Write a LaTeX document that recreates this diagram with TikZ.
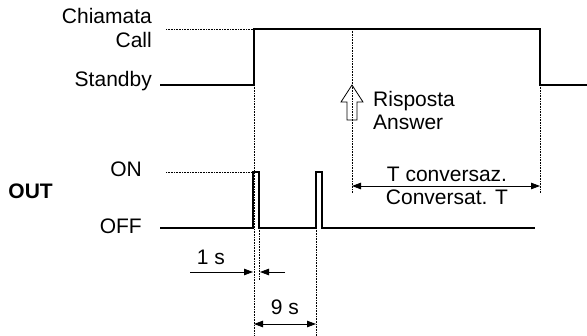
\documentclass[tikz,border=0pt]{standalone}
\usepackage{fontspec}
\setmainfont{Liberation Sans}
\usetikzlibrary{arrows.meta}

\begin{document}
\begin{tikzpicture}[x=1pt,y=-1pt,
    >={Triangle[length=9pt,width=6.5pt]},
    signal/.style={line width=1.4pt},
    guide/.style={densely dotted, line width=0.6pt},
    dimline/.style={line width=0.8pt},
    lbl/.style={inner sep=0pt, font=\fontsize{21}{24}\selectfont}]
  \useasboundingbox (0,0) rectangle (587,336);

  % labels of the levels
  \node[lbl, anchor=base east] (chiamata) at (152,24) {Chiamata};
  \node[lbl, anchor=base east] (call) at (152,48) {Call};
  \node[lbl, anchor=base east] (standby) at (152,87) {Standby};
  \node[lbl, anchor=base east] (on) at (142,177) {ON};
  \node[lbl, anchor=base east] (off) at (142,234) {OFF};
  \node[lbl, anchor=base east, font=\fontsize{21}{24}\selectfont\bfseries] (out) at (53,199) {OUT};

  % times
  \coordinate (ring) at (254,85);
  \coordinate (pulse1) at (259,228);
  \coordinate (pulse2) at (316,228);
  \coordinate (answer) at (352,29);
  \coordinate (hangup) at (540,85);

  % call signal
  \draw[guide] (166,29) -- (254,29);
  \draw[signal] (160,85) -| (254,29) -| (hangup) -- (587,85);

  % output signal
  \draw[guide] (166,172) -- (253,172);
  \draw[signal] (160,228) -| (253,172) -| (pulse1) -| (316,172) -| (322,228) -- (535,228);

  % guide lines
  \draw[guide] (ring) -- (254,336);
  \draw[guide] (pulse1) -- (259,280);
  \draw[guide] (pulse2) -- (316,336);
  \draw[guide] (answer) -- (352,193);
  \draw[guide] (hangup) -- (540,193);

  % answer arrow
  \draw[line width=0.8pt]
    (352,85) -- (363,102) -- (357,102) -- (357,120) -- (347,120) -- (347,102) -- (341,102) -- cycle;
  \node[lbl, anchor=base west] (risposta) at (373,107) {Risposta};
  \node[lbl, anchor=base west] (answertxt) at (373,130) {Answer};

  % 1 s
  \draw[dimline, ->] (190,272) -- (253,272);
  \draw[dimline, ->] (285,272) -- (260,272);
  \node[lbl, anchor=base] (onesec) at (211,265) {1 s};

  % 9 s
  \draw[dimline, <->] (254,324) -- (316,324);
  \node[lbl, anchor=base] (ninesec) at (285,315) {9 s};

  % conversation time
  \draw[dimline, <->] (352,186) -- (540,186);
  \node[lbl, anchor=base] (tconv) at (447,182) {T conversaz.};
  \node[lbl, anchor=base] (conv) at (447,205) {Conversat. T};
\end{tikzpicture}
\end{document}
